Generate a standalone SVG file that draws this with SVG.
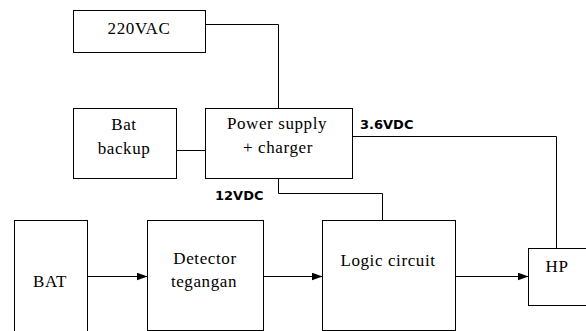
<svg xmlns="http://www.w3.org/2000/svg" width="586" height="331" viewBox="0 0 586 331">
<style>
.box{fill:#fff;stroke:#000;stroke-width:1}
.lbl{font-family:'Liberation Serif','Times New Roman',serif;font-size:17px;fill:#000;text-anchor:middle;letter-spacing:0.6px}
.v{font-family:'DejaVu Sans',Verdana,sans-serif;font-weight:bold;font-size:13px;fill:#000}
.c{fill:none;stroke:#000;stroke-width:1}
</style>
<defs>
<marker id="ah" markerUnits="userSpaceOnUse" markerWidth="11" markerHeight="8" refX="11" refY="4" orient="auto">
<path d="M0,0 L11,4 L0,8 z" fill="#000"/>
</marker>
</defs>
<rect width="586" height="331" fill="#fff"/>
<g id="connectors">
<polyline class="c" points="205.5,24.5 278.5,24.5 278.5,108.5"/>
<line class="c" x1="176.5" y1="150.5" x2="205.5" y2="150.5"/>
<polyline class="c" points="352.5,136.5 556.5,136.5 556.5,248.5"/>
<polyline class="c" points="278.5,178.5 278.5,193.5 382.5,193.5 382.5,220.5"/>
<line class="c" x1="87.5" y1="276.5" x2="147.5" y2="276.5" marker-end="url(#ah)"/>
<line class="c" x1="263.5" y1="276.5" x2="322.5" y2="276.5" marker-end="url(#ah)"/>
<line class="c" x1="455.5" y1="276.5" x2="528.5" y2="276.5" marker-end="url(#ah)"/>
<text class="v" x="360" y="129">3.6VDC</text>
<text class="v" x="215" y="200">12VDC</text>
</g>
<g id="vac">
<rect class="box" x="73.5" y="10.5" width="132" height="42"/>
<text class="lbl" x="139" y="34">220VAC</text>
</g>
<g id="batbackup">
<rect class="box" x="73.5" y="108.5" width="103" height="70"/>
<text class="lbl" x="124" y="130">Bat</text>
<text class="lbl" x="124" y="154">backup</text>
</g>
<g id="power">
<rect class="box" x="205.5" y="108.5" width="147" height="70"/>
<text class="lbl" x="277" y="129">Power supply</text>
<text class="lbl" x="278" y="153">+ charger</text>
</g>
<g id="bat">
<rect class="box" x="14.5" y="220.5" width="73" height="125"/>
<text class="lbl" x="50" y="287">BAT</text>
</g>
<g id="detector">
<rect class="box" x="147.5" y="220.5" width="116" height="110"/>
<text class="lbl" x="205" y="264">Detector</text>
<text class="lbl" x="204" y="287">tegangan</text>
</g>
<g id="logic">
<rect class="box" x="322.5" y="220.5" width="133" height="110"/>
<text class="lbl" x="388" y="266">Logic circuit</text>
</g>
<g id="hp">
<rect class="box" x="528.5" y="248.5" width="70" height="57"/>
<text class="lbl" x="557" y="272">HP</text>
</g>
</svg>
